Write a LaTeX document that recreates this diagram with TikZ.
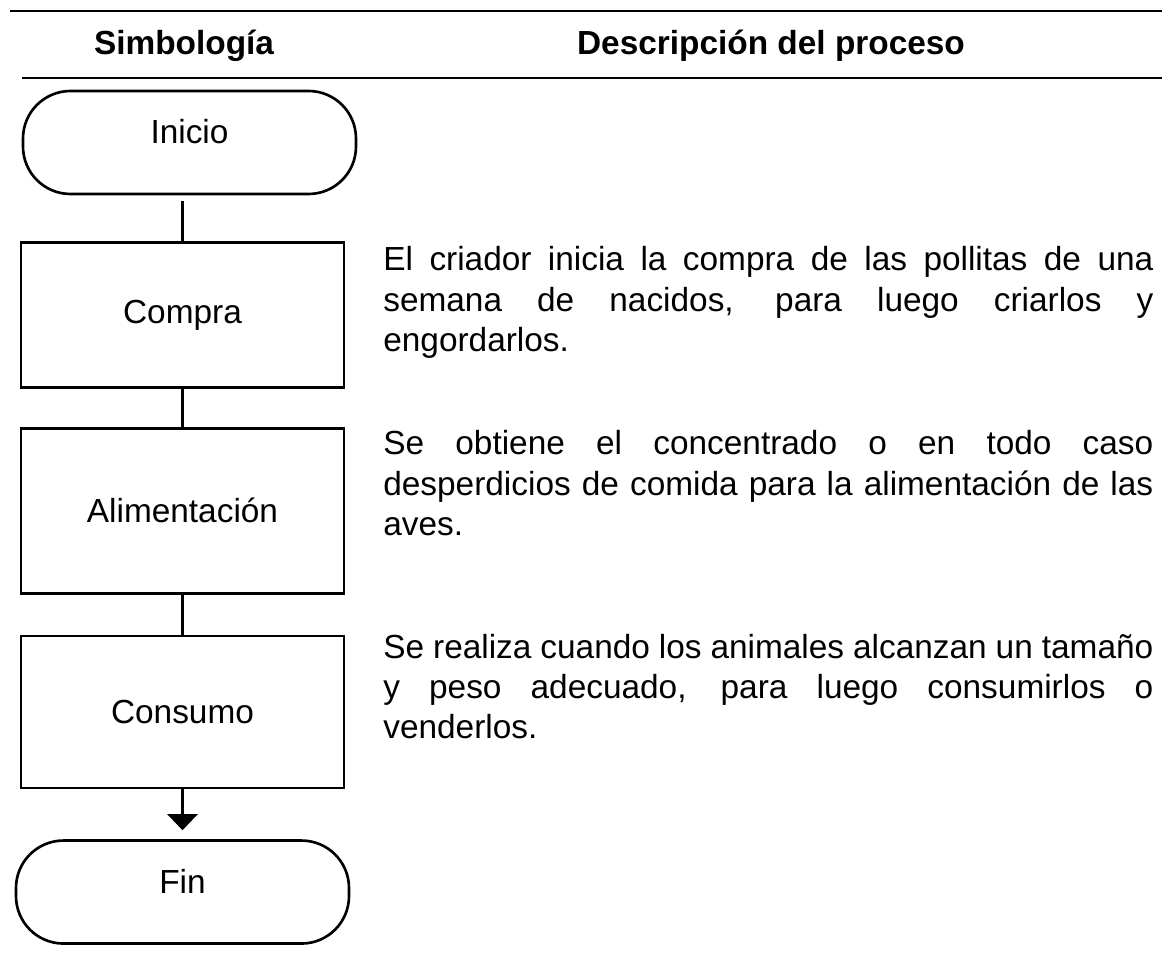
\documentclass[tikz,border=0pt]{standalone}
\usepackage{fontspec}
\setmainfont{Liberation Sans}
\usetikzlibrary{arrows.meta, positioning}
\hyphenpenalty=10000

\begin{document}
\begin{tikzpicture}[
    caja/.style={draw, line width=1.5pt, minimum width=6.46cm, minimum height=2.9cm},
    terminal/.style={draw, line width=1.5pt, rounded corners=0.95cm, minimum width=6.66cm, minimum height=2.06cm, text height=0.5cm, text depth=0.46cm},
    conector/.style={line width=1.4pt},
    flecha/.style={line width=1.4pt, -{Triangle[width=0.6cm, length=0.32cm]}},
    desc/.style={anchor=base west, text width=15.4cm, align=justify, inner sep=0pt},
    titulo/.style={anchor=base, font=\fontsize{19}{22.8}\selectfont\bfseries},
    regla/.style={line width=1.6pt},
    font=\fontsize{19}{22.8}\selectfont
]

% Fondo y margenes
\fill[white] (0,0) rectangle (23.24,-19.44);
\useasboundingbox (0,0) rectangle (23.24,-19.44);

% Encabezado de la tabla
\draw[regla] (0.2,-0.22) -- (23.24,-0.22);
\node[titulo] (simbologia) at (3.68,-1.1) {Simbología};
\node[titulo] (descripcion) at (15.42,-1.1) {Descripción del proceso};
\draw[regla] (0.44,-1.56) -- (23.24,-1.56);

% Simbologia: inicio y cajas del proceso
\node[terminal] (inicio) at (3.79,-2.85) {Inicio};
\node[caja, below=0.92cm of inicio, xshift=-0.14cm] (compra) {Compra};
\node[caja, below=0.76cm of compra, minimum height=3.3cm] (alimentacion) {Alimentación};
\node[caja, below=0.8cm of alimentacion, minimum height=3.04cm] (consumo) {Consumo};
\node[terminal, below=1.0cm of consumo] (fin) {Fin};

% Lineas de union
\draw[conector, shorten <=1.2mm] (inicio.south -| compra.north) -- (compra.north);
\draw[conector] (compra) -- (alimentacion);
\draw[conector] (alimentacion) -- (consumo);
\draw[flecha, shorten >=1.8mm] (consumo.south) -- (fin.north);

% Descripcion de cada paso
\node[desc] (dcompra) at (7.66,-5.42)
{El criador inicia la compra de las pollitas de una\linebreak semana de nacidos, para luego criarlos y\linebreak engordarlos.};
\node[desc] (dalimentacion) at (7.66,-9.1)
{Se obtiene el concentrado o en todo caso\linebreak desperdicios de comida para la alimentación de las\linebreak aves.};
\node[desc] (dconsumo) at (7.66,-13.16)
{Se realiza cuando los animales alcanzan un tamaño\linebreak y peso adecuado, para luego consumirlos o\linebreak venderlos.};

\end{tikzpicture}
\end{document}
